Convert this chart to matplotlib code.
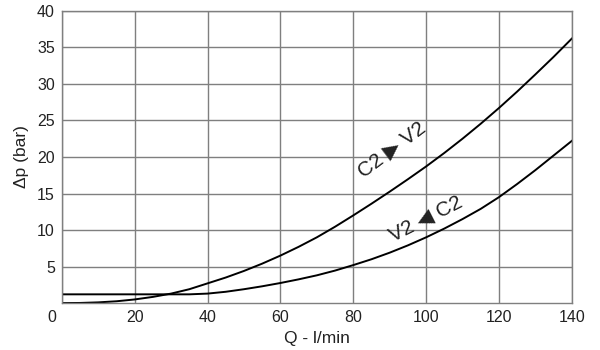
import matplotlib
matplotlib.use('Agg')
import matplotlib.pyplot as plt
import matplotlib.transforms as mtransforms

# flow (l/min) and pressure drop (bar)
q = [0, 5, 10, 15, 20, 25, 30, 35, 40, 45, 50, 55, 60, 65, 70, 75, 80, 85, 90, 95,
     100, 105, 110, 115, 120, 125, 130, 135, 140]
dp_c2_v2 = [0, 0.02, 0.1, 0.25, 0.5, 0.85, 1.3, 1.9, 2.7, 3.5, 4.4, 5.4, 6.5, 7.7, 9.0, 10.45,
            12.0, 13.6, 15.25, 16.95, 18.7, 20.55, 22.5, 24.55, 26.7, 28.95, 31.3, 33.7, 36.2]
dp_v2_c2 = [1.2, 1.2, 1.2, 1.2, 1.2, 1.2, 1.2, 1.2, 1.3, 1.55, 1.9, 2.3, 2.75, 3.25, 3.8, 4.45,
            5.2, 6.0, 6.9, 7.9, 9.0, 10.2, 11.5, 12.9, 14.5, 16.3, 18.2, 20.2, 22.2]

x_ticks = [0, 20, 40, 60, 80, 100, 120, 140]
y_ticks = [5, 10, 15, 20, 25, 30, 35, 40]

plt.rcParams['font.family'] = ['Liberation Sans', 'DejaVu Sans']

fig = plt.figure(figsize=(6, 3.5), dpi=100)
ax = fig.add_axes([0.103, 0.134, 0.850, 0.835])

ax.plot(q, dp_c2_v2, color='black', lw=1.4)
ax.plot(q, dp_v2_c2, color='black', lw=1.4)

ax.set_xlim(0, 140)
ax.set_ylim(0, 40)
ax.set_xticks(x_ticks)
ax.set_yticks(y_ticks)
ax.grid(True, color='#7f7f7f', lw=1.0)
for s in ax.spines.values():
    s.set_color('#7f7f7f')
    s.set_linewidth(1.0)
ax.tick_params(length=0, labelsize=11.5, pad=5, colors='#222222')

# the shared "0" sits a bit left of the corner
lbl0 = ax.get_xticklabels()[0]
lbl0.set_transform(lbl0.get_transform() + mtransforms.ScaledTranslation(-0.1, 0, fig.dpi_scale_trans))

ax.set_xlabel('Q - l/min', fontsize=12.5, labelpad=4, color='#222222')
ax.set_ylabel('Δp (bar)', fontsize=12.5, labelpad=6, color='#222222')

ax.text(90.5, 21.0, 'C2 \u25b6 V2', rotation=37, fontsize=15, ha='center', va='center',
        rotation_mode='anchor', color='#222222')
ax.text(100.0, 11.6, 'V2 \u25c0 C2', rotation=27, fontsize=15, ha='center', va='center',
        rotation_mode='anchor', color='#222222')

fig.savefig('out.png', dpi=100)
